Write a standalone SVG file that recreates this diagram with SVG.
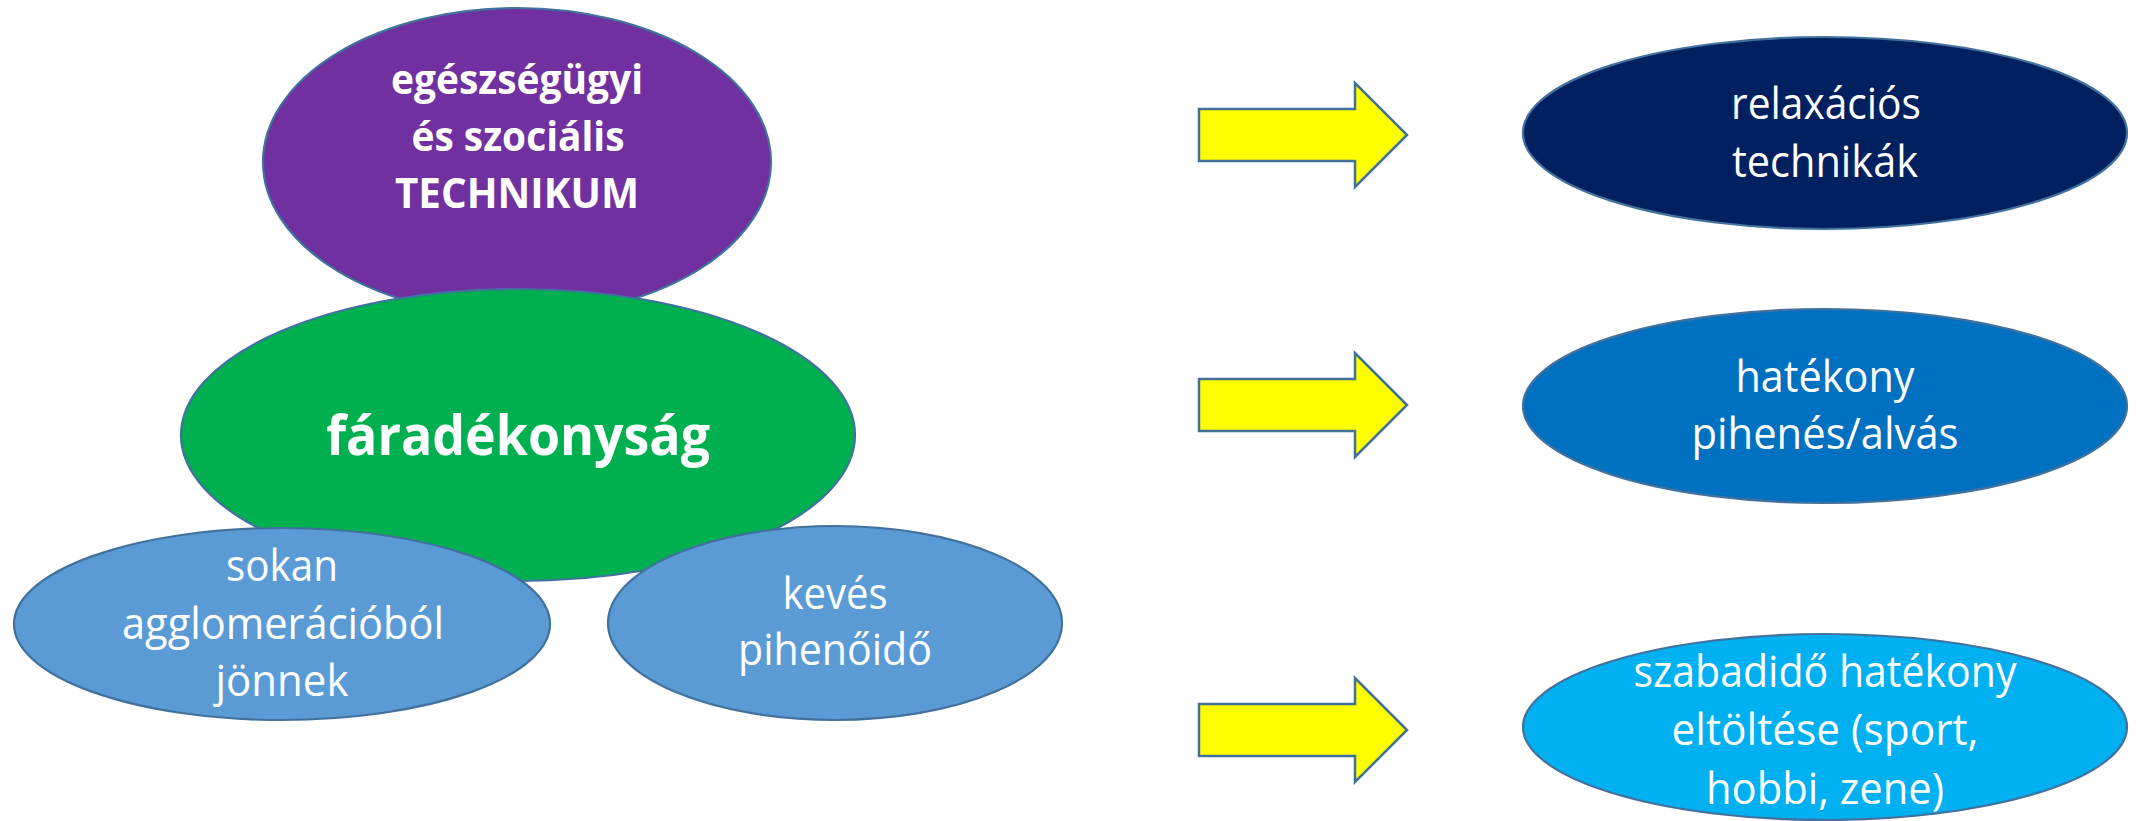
<svg xmlns="http://www.w3.org/2000/svg" width="2142" height="821" viewBox="0 0 2142 821">
<style>
.shape{stroke:#41719C;stroke-width:2.2}
.t{font-family:"Open Sans","Noto Sans","Liberation Sans",sans-serif;fill:#FFFFFF;text-anchor:middle;font-size:44px}
.b{font-weight:bold;font-size:42px}
.big{font-weight:bold;font-size:55px}
.arrow{fill:#FFFF00;stroke:#41719C;stroke-width:2.5;stroke-linejoin:miter}
</style>
<rect width="2142" height="821" fill="#FFFFFF"/>
<g id="node-technikum">
<ellipse class="shape" cx="517" cy="162" rx="254" ry="154" fill="#7030A0"/>
<text class="t b" x="517" y="94" textLength="252" lengthAdjust="spacingAndGlyphs">egészségügyi</text>
<text class="t b" x="518" y="151" textLength="213" lengthAdjust="spacingAndGlyphs">és szociális</text>
<text class="t b" x="517" y="208" textLength="244" lengthAdjust="spacingAndGlyphs">TECHNIKUM</text>
</g>
<g id="node-faradekonysag">
<ellipse class="shape" cx="518" cy="435" rx="337" ry="146" fill="#00B050"/>
<text class="t big" x="518" y="455" textLength="384" lengthAdjust="spacingAndGlyphs">fáradékonyság</text>
</g>
<g id="node-agglomeracio">
<ellipse class="shape" cx="282" cy="624" rx="268" ry="96" fill="#5B9BD5"/>
<text class="t" x="282" y="581" textLength="112" lengthAdjust="spacingAndGlyphs">sokan</text>
<text class="t" x="283" y="639" textLength="322" lengthAdjust="spacingAndGlyphs">agglomerációból</text>
<text class="t" x="282" y="696" textLength="133" lengthAdjust="spacingAndGlyphs">jönnek</text>
</g>
<g id="node-pihenoido">
<ellipse class="shape" cx="835" cy="623" rx="227" ry="97" fill="#5B9BD5"/>
<text class="t" x="835" y="609" textLength="105" lengthAdjust="spacingAndGlyphs">kevés</text>
<text class="t" x="835" y="665" textLength="194" lengthAdjust="spacingAndGlyphs">pihenőidő</text>
</g>
<g id="connectors">
<path class="arrow" d="M1199,109 H1355 V83 L1407,135 L1355,187 V161 H1199 Z"/>
<path class="arrow" d="M1199,379 H1355 V353 L1407,405 L1355,457 V431 H1199 Z"/>
<path class="arrow" d="M1199,704 H1355 V678 L1407,730 L1355,782 V756 H1199 Z"/>
</g>
<g id="node-relaxacios">
<ellipse class="shape" cx="1825" cy="133" rx="302" ry="96" fill="#002060"/>
<text class="t" x="1826" y="119" textLength="190" lengthAdjust="spacingAndGlyphs">relaxációs</text>
<text class="t" x="1825" y="177" textLength="186" lengthAdjust="spacingAndGlyphs">technikák</text>
</g>
<g id="node-pihenes">
<ellipse class="shape" cx="1825" cy="406" rx="302" ry="97" fill="#0070C0"/>
<text class="t" x="1825" y="392" textLength="179" lengthAdjust="spacingAndGlyphs">hatékony</text>
<text class="t" x="1825" y="449" textLength="267" lengthAdjust="spacingAndGlyphs">pihenés/alvás</text>
</g>
<g id="node-szabadido">
<ellipse class="shape" cx="1825" cy="727" rx="302" ry="93" fill="#00B0F0"/>
<text class="t" x="1825" y="687" textLength="383" lengthAdjust="spacingAndGlyphs">szabadidő hatékony</text>
<text class="t" x="1825" y="745" textLength="307" lengthAdjust="spacingAndGlyphs">eltöltése (sport,</text>
<text class="t" x="1825" y="804" textLength="238" lengthAdjust="spacingAndGlyphs">hobbi, zene)</text>
</g>
</svg>
